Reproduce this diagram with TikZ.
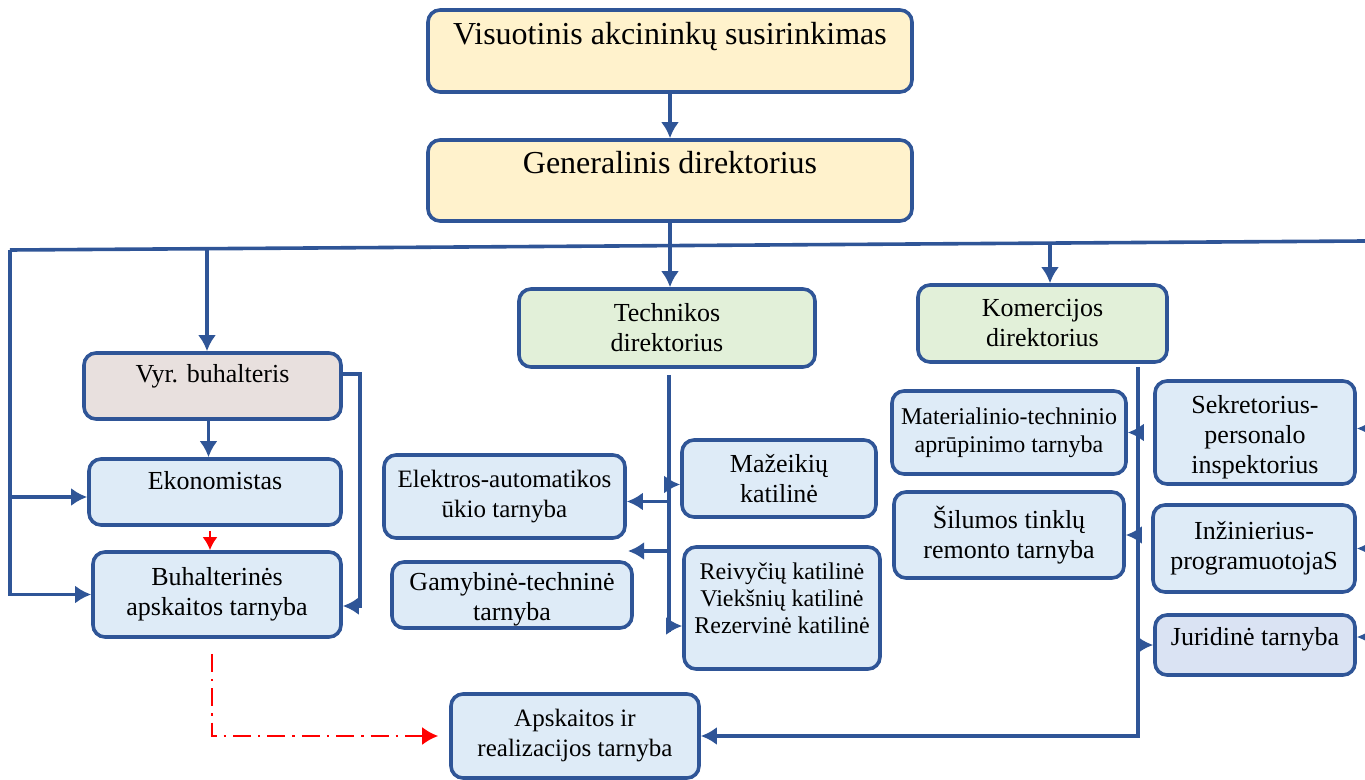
\documentclass[tikz,border=0pt]{standalone}
\usepackage{fontspec}
\setmainfont{Liberation Serif}
\usetikzlibrary{arrows.meta}
\definecolor{linecol}{HTML}{2F5597}
\definecolor{yellowfill}{HTML}{FFF2CC}
\definecolor{greenfill}{HTML}{E2F0D9}
\definecolor{greyfill}{HTML}{E8E0DE}
\definecolor{bluefill}{HTML}{DEEBF7}
\definecolor{jurfill}{HTML}{DAE3F3}
\tikzset{
  box/.style 2 args={draw=linecol, line width=1.8pt, rounded corners=6pt,
    align=center, inner sep=1pt, fill=bluefill,
    minimum width=#1*0.5pt, minimum height=#2*0.5pt,
    font=\fontsize{13}{15}\selectfont},
  oneline/.style={text height=11pt, text depth=#1},
  line/.style={draw=linecol, line width=1.8pt},
  conn/.style={line, -{Latex[length=8pt, width=9pt]}},
  redtip/.style={draw=red, line width=1.2pt, -{Latex[length=6.5pt, width=7.5pt]}},
  redlink/.style={draw=red, line width=1.2pt, dash pattern=on 9pt off 3.5pt on 1.2pt off 3.5pt,
    -{Latex[length=8pt, width=9pt]}}
}
\begin{document}
\begin{tikzpicture}[x=0.5pt, y=-0.5pt]
  \useasboundingbox (0,0) rectangle (1365,780);
  % top level
  \node[box={484}{82}, fill=yellowfill, font=\fontsize{16}{18}\selectfont, oneline=17pt] (vis) at (670,51) {Visuotinis akcininkų susirinkimas};
  \node[box={484}{81}, fill=yellowfill, font=\fontsize{16}{18}\selectfont, oneline=17.5pt] (gen) at (670,180.5) {Generalinis direktorius};
  \node[box={296}{78}, fill=greenfill] (tech) at (667,328) {Technikos\\direktorius};
  \node[box={249}{77}, fill=greenfill] (kom) at (1042.5,323.5) {Komercijos\\direktorius};
  % accounting
  \node[box={257}{66}, fill=greyfill, oneline=14pt] (vyr) at (212.5,386) {Vyr. buhalteris};
  \node[box={252}{66}, oneline=14pt] (eko) at (215,492) {Ekonomistas};
  \node[box={248}{85}] (buh) at (217,594.5) {Buhalterinės\\apskaitos tarnyba};
  % technical
  \node[box={241}{83}, font=\fontsize{12.5}{15}\selectfont] (elek) at (504.5,496.5) {Elektros-automatikos\\ūkio tarnyba};
  \node[box={240}{66}] (gam) at (512,595) {\mbox{}\\[-2pt]Gamybinė-techninė\\tarnyba};
  \node[box={194}{77}] (maz) at (779,478.5) {Mažeikių\\katilinė};
  \node[box={196}{122}, font=\fontsize{12}{13.5}\selectfont] (rei) at (782,608) {Reivyčių katilinė\\Viekšnių katilinė\\Rezervinė katilinė\\[-4pt]\mbox{}};
  % commercial
  \node[box={234}{83}, font=\fontsize{12}{14}\selectfont] (mat) at (1009,432.5) {Materialinio-techninio\\aprūpinimo tarnyba};
  \node[box={230}{86}] (sil) at (1009,535) {Šilumos tinklų\\remonto tarnyba};
  \node[box={200}{103}] (sek) at (1255,432.5) {\mbox{}\\[-1.5pt]Sekretorius-\\personalo\\inspektorius};
  \node[box={202}{87}] (inz) at (1254,548.5) {Inžinierius-\\programuotojaS};
  \node[box={200}{60}, fill=jurfill, oneline=11pt] (jur) at (1255,645) {Juridinė tarnyba};
  \node[box={248}{84}, font=\fontsize{12.5}{15}\selectfont] (aps) at (575,736) {Apskaitos ir\\realizacijos tarnyba};
  % bus
  \coordinate (busL) at (10,250);
  \coordinate (busR) at (1365,241);
  \coordinate (edgeR) at (1365,0);
  \coordinate (tapV) at (207,249);
  \coordinate (tapK) at (1050,243);
  \draw[line] (busL) -- (busR);
  \draw[conn] (vis.south) -- (gen.north);
  \draw[conn] (gen.south) -- (gen.south |- tech.north);
  \draw[conn] (tapV) -- (tapV |- vyr.north);
  \draw[conn] (tapK) -- (tapK |- kom.north);
  % accounting links
  \draw[conn] (busL) |- (buh.west);
  \draw[conn] ([yshift=-2.5pt]busL |- eko.west) -- ([yshift=-2.5pt]eko.west);
  \draw[conn] ([xshift=-2pt]vyr.south) -- ([xshift=-2pt]vyr.south |- eko.north);
  \draw[redtip, shorten <=2pt] ([xshift=-2.5pt]eko.south) -- ([xshift=-2.5pt]eko.south |- buh.north);
  \draw[conn] ([yshift=6pt]vyr.east) -- ++(17,0) |- ([yshift=-5.75pt]buh.east);
  % technical links
  \coordinate (tTop) at (669,375);
  \coordinate (tBot) at (669,632);
  \coordinate (gapTip) at (628,551);
  \draw[line] (tTop) -- (tBot);
  \draw[conn] ([yshift=-3pt]maz.west -| tTop) -- ([yshift=-3pt]maz.west);
  \draw[conn] ([yshift=-2.5pt]elek.east -| tTop) -- ([yshift=-2.5pt]elek.east);
  \draw[conn] (gapTip -| tTop) -- (gapTip);
  \draw[conn] ([yshift=-9pt]rei.west -| tTop) -- ([yshift=-9pt]rei.west);
  % commercial links
  \coordinate (kTop) at (1138,367);
  \draw[conn] (kTop) |- (aps.east);
  \draw[conn] (mat.east -| kTop) -- (mat.east);
  \draw[conn] (sil.east -| kTop) -- (sil.east);
  \draw[conn] (jur.west -| kTop) -- (jur.west);
  \draw[conn] ([yshift=2pt]sek.east -| edgeR) -- ([yshift=2pt]sek.east);
  \draw[conn] (inz.east -| edgeR) -- (inz.east);
  \draw[conn] ([yshift=4pt]jur.east -| edgeR) -- ([yshift=4pt]jur.east);
  % dashed red link
  \draw[redlink] ([xshift=-2.5pt, yshift=-7.5pt]buh.south) |- ([xshift=-5.5pt]aps.west);
\end{tikzpicture}
\end{document}
